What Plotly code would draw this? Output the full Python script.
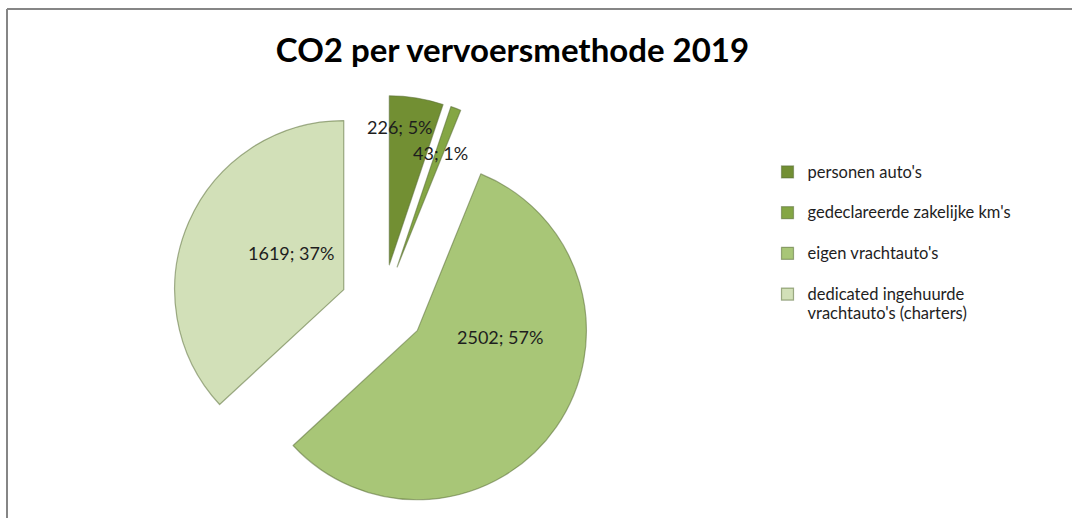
import plotly.graph_objects as go

categories = ["personen auto's", "gedeclareerde zakelijke km's", "eigen vrachtauto's",
              "dedicated ingehuurde<br>vrachtauto's (charters)"]
values = [226, 43, 2502, 1619]
colors = ["#728f33", "#84a644", "#a8c677", "#d2e0b8"]
title_text = "CO2 per vervoersmethode 2019"

# label anchor positions in pixels (layout only)
label_px = [(400, 127), (440, 153), (500, 337), (291, 253)]

FONT = "Lato"
W, H = 1072, 518

total = sum(values)
label_texts = [f"{v}; {round(100 * v / total)}%" for v in values]
legend_labels = []
for c in categories:
    txt = f"<span style='font-size:16.5px'>{c}</span>"
    if "<br>" not in c:
        txt += "<br> "
    legend_labels.append(txt)

cx, cy, box_top = 382.5, 306.6, 95.2
box_h = H - box_top
half_w = 216.0

fig = go.Figure(go.Pie(
    labels=legend_labels,
    values=values,
    sort=False,
    direction="clockwise",
    rotation=0,
    pull=[0.25] * len(values),
    marker=dict(colors=colors, line=dict(color="rgba(90,110,55,0.55)", width=1.2)),
    textinfo="none",
    hoverinfo="label+value+percent",
    domain=dict(x=[(cx - half_w) / W, (cx + half_w) / W], y=[0, box_h / H]),
))

annotations = [
    dict(text=t, x=px / W, y=1 - py / H, xref="paper", yref="paper",
         showarrow=False, xanchor="center", yanchor="middle",
         font=dict(family=FONT, size=18, color="#1e1e1e"))
    for t, (px, py) in zip(label_texts, label_px)
]

fig.update_layout(
    width=W, height=H,
    margin=dict(l=0, r=0, t=0, b=0),
    paper_bgcolor="white",
    plot_bgcolor="white",
    title=dict(text=title_text, x=512.5 / W, xanchor="center", y=1 - 50 / H, yanchor="middle",
               font=dict(family=FONT, size=33, color="black", weight="bold")),
    annotations=annotations,
    legend=dict(x=767.5 / W, y=1 - 156 / H, xanchor="left", yanchor="top",
                font=dict(family=FONT, size=14.5, color="#1e1e1e"),
                valign="top", itemwidth=30, bgcolor="rgba(0,0,0,0)"),
    shapes=[
        dict(type="line", xref="paper", yref="paper", x0=7 / W, x1=1, y0=1 - 9 / H, y1=1 - 9 / H,
             line=dict(color="#868686", width=2)),
        dict(type="line", xref="paper", yref="paper", x0=7 / W, x1=7 / W, y0=0, y1=1 - 9 / H,
             line=dict(color="#868686", width=2)),
    ],
)

fig.write_html("out.html", config={"displayModeBar": False},
               post_script="document.body.style.margin='0px';")
